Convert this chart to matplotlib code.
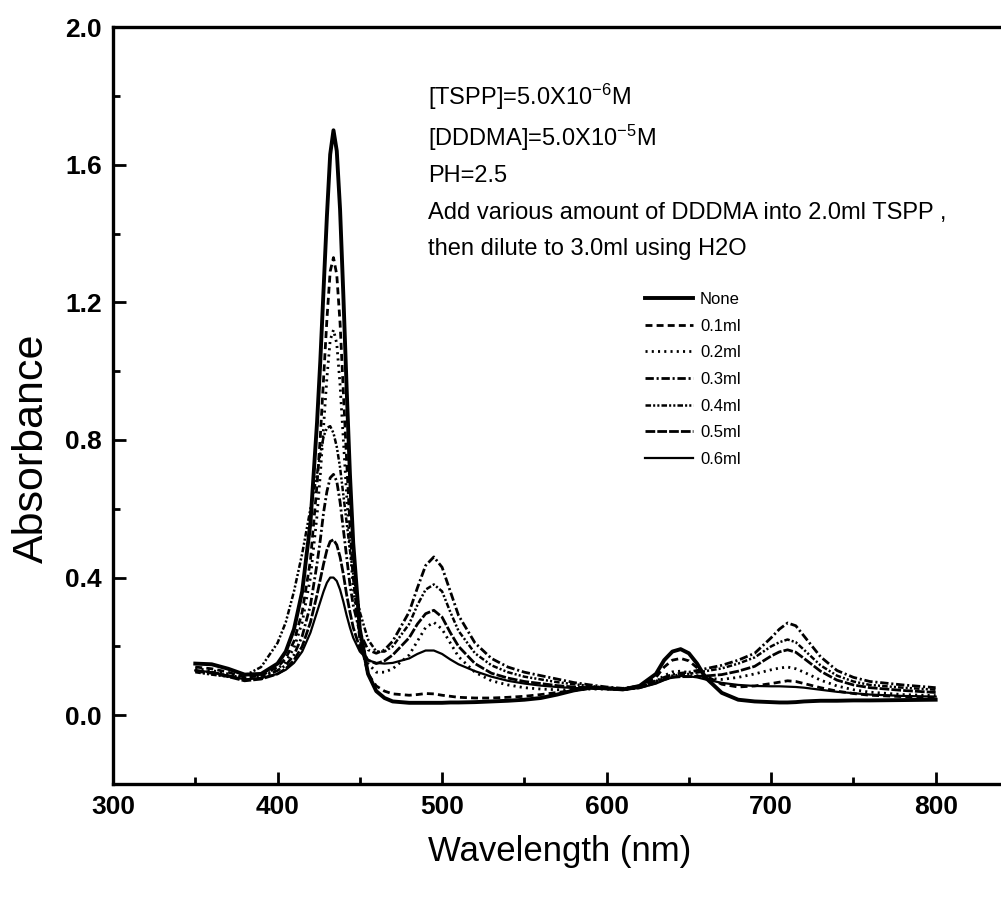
import matplotlib
matplotlib.use("Agg")
import matplotlib.pyplot as plt
from matplotlib.ticker import MultipleLocator

plt.rcParams['font.family'] = ['Liberation Sans', 'DejaVu Sans']
plt.rcParams['mathtext.default'] = 'regular'
plt.rcParams['lines.scale_dashes'] = False

# wavelength grid (nm)
wavelength = [350, 360, 370, 380, 390,
              400, 405, 410, 415, 420,
              424, 426, 428, 430, 432,
              434, 436, 438, 440, 442,
              444, 446, 450, 455, 460,
              465, 470, 480, 485, 490,
              495, 500, 505, 510, 520,
              530, 540, 550, 560, 570,
              580, 590, 600, 610, 620,
              630, 635, 640, 645, 650,
              655, 660, 670, 680, 690,
              700, 705, 710, 715, 720,
              730, 740, 750, 760, 780,
              800]

abs_none = [0.150, 0.148, 0.135, 0.118, 0.120,
            0.150, 0.185, 0.250, 0.360, 0.560,
            0.850, 1.030, 1.240, 1.450, 1.630,
            1.700, 1.640, 1.470, 1.220, 0.950,
            0.700, 0.500, 0.250, 0.120, 0.070,
            0.050, 0.040, 0.036, 0.036, 0.036,
            0.036, 0.036, 0.037, 0.037, 0.038,
            0.040, 0.042, 0.045, 0.050, 0.060,
            0.072, 0.080, 0.078, 0.075, 0.085,
            0.120, 0.160, 0.185, 0.192, 0.180,
            0.150, 0.110, 0.065, 0.045, 0.040,
            0.038, 0.037, 0.037, 0.038, 0.040,
            0.042, 0.042, 0.043, 0.043, 0.044,
            0.045]

abs_01 = [0.140, 0.135, 0.125, 0.110, 0.115,
          0.140, 0.165, 0.215, 0.300, 0.450,
          0.670, 0.810, 0.980, 1.150, 1.290,
          1.330, 1.280, 1.140, 0.940, 0.740,
          0.550, 0.400, 0.220, 0.120, 0.085,
          0.070, 0.062, 0.058, 0.060, 0.063,
          0.062, 0.058, 0.055, 0.052, 0.050,
          0.050, 0.052, 0.055, 0.060, 0.066,
          0.072, 0.078, 0.078, 0.075, 0.082,
          0.110, 0.140, 0.160, 0.165, 0.158,
          0.138, 0.115, 0.090, 0.082, 0.085,
          0.092, 0.096, 0.100, 0.098, 0.092,
          0.080, 0.070, 0.063, 0.058, 0.054,
          0.052]

abs_02 = [0.135, 0.130, 0.120, 0.108, 0.112,
          0.135, 0.155, 0.195, 0.270, 0.400,
          0.580, 0.700, 0.840, 0.980, 1.090,
          1.120, 1.080, 0.960, 0.800, 0.640,
          0.490, 0.370, 0.230, 0.150, 0.125,
          0.125, 0.135, 0.175, 0.215, 0.255,
          0.270, 0.250, 0.210, 0.170, 0.125,
          0.100, 0.088, 0.080, 0.076, 0.074,
          0.074, 0.076, 0.076, 0.074, 0.080,
          0.098, 0.115, 0.126, 0.128, 0.124,
          0.115, 0.108, 0.104, 0.110, 0.120,
          0.132, 0.137, 0.140, 0.135, 0.125,
          0.102, 0.085, 0.074, 0.067, 0.060,
          0.057]

abs_03 = [0.130, 0.125, 0.115, 0.102, 0.108,
          0.130, 0.145, 0.175, 0.230, 0.320,
          0.440, 0.510, 0.590, 0.650, 0.690,
          0.700, 0.680, 0.620, 0.540, 0.460,
          0.380, 0.320, 0.240, 0.190, 0.180,
          0.190, 0.215, 0.300, 0.370, 0.435,
          0.460, 0.430, 0.360, 0.290, 0.210,
          0.165, 0.140, 0.125, 0.115, 0.105,
          0.095, 0.088, 0.082, 0.078, 0.085,
          0.100, 0.110, 0.118, 0.122, 0.125,
          0.130, 0.135, 0.145, 0.160, 0.180,
          0.225, 0.250, 0.268, 0.260, 0.230,
          0.170, 0.130, 0.110, 0.098, 0.088,
          0.080]

abs_04 = [0.125, 0.118, 0.112, 0.115, 0.140,
          0.210, 0.270, 0.360, 0.470, 0.600,
          0.700, 0.760, 0.810, 0.835, 0.840,
          0.820, 0.780, 0.720, 0.640, 0.560,
          0.480, 0.410, 0.300, 0.220, 0.185,
          0.185, 0.200, 0.265, 0.320, 0.365,
          0.380, 0.360, 0.300, 0.245, 0.180,
          0.145, 0.125, 0.112, 0.104, 0.096,
          0.090, 0.085, 0.080, 0.077, 0.083,
          0.098, 0.108, 0.115, 0.118, 0.120,
          0.124, 0.128, 0.136, 0.150, 0.168,
          0.200, 0.212, 0.220, 0.212, 0.190,
          0.145, 0.115, 0.098, 0.088, 0.080,
          0.074]

abs_05 = [0.128, 0.122, 0.112, 0.100, 0.105,
          0.120, 0.135, 0.160, 0.200, 0.270,
          0.350, 0.395, 0.440, 0.480, 0.505,
          0.510, 0.495, 0.460, 0.410, 0.350,
          0.300, 0.255, 0.195, 0.160, 0.150,
          0.158, 0.175, 0.225, 0.265, 0.295,
          0.305, 0.285, 0.240, 0.200, 0.150,
          0.122, 0.108, 0.098, 0.092, 0.086,
          0.082, 0.080, 0.077, 0.074, 0.080,
          0.094, 0.104, 0.110, 0.112, 0.112,
          0.113, 0.114, 0.118, 0.128, 0.142,
          0.172, 0.184, 0.190, 0.183, 0.165,
          0.128, 0.102, 0.088, 0.080, 0.072,
          0.066]

abs_06 = [0.130, 0.125, 0.115, 0.104, 0.108,
          0.120, 0.132, 0.152, 0.185, 0.240,
          0.300, 0.330, 0.360, 0.385, 0.400,
          0.400, 0.390, 0.365, 0.330, 0.290,
          0.255, 0.225, 0.185, 0.160, 0.152,
          0.150, 0.152, 0.165, 0.178, 0.188,
          0.188, 0.178, 0.162, 0.148, 0.128,
          0.112, 0.100, 0.092, 0.086, 0.082,
          0.079, 0.078, 0.076, 0.074, 0.079,
          0.092, 0.102, 0.110, 0.114, 0.113,
          0.110, 0.104, 0.094, 0.088, 0.085,
          0.084, 0.084, 0.083, 0.082, 0.080,
          0.074, 0.068, 0.064, 0.060, 0.056,
          0.054]

labels = ['None', '0.1ml', '0.2ml', '0.3ml', '0.4ml', '0.5ml', '0.6ml']
spectra = [abs_none, abs_01, abs_02, abs_03, abs_04, abs_05, abs_06]

notes = [r'[TSPP]=5.0X10$^{-6}$M',
         r'[DDDMA]=5.0X10$^{-5}$M',
         'PH=2.5',
         'Add various amount of DDDMA into 2.0ml TSPP ,',
         'then dilute to 3.0ml using H2O']

# line styles (widths and dash patterns in points)
styles = [dict(lw=2.8, ls='-'),
          dict(lw=2.0, ls=(0, (5, 3))),
          dict(lw=2.0, ls=(0, (1.5, 3))),
          dict(lw=2.0, ls=(0, (6, 2, 1.5, 2))),
          dict(lw=1.8, ls=(0, (4, 1.5, 1.5, 1.5, 1.5, 1.5))),
          dict(lw=2.0, ls=(0, (7, 1.5))),
          dict(lw=1.6, ls='-')]


def plot_spectra():
    fig = plt.figure(figsize=(10.01, 8.99), dpi=100)
    ax = fig.add_axes([0.1129, 0.1279, 0.904, 0.842])

    for y, lab, st in zip(spectra, labels, styles):
        ax.plot(wavelength, y, color='black', label=lab, **st)

    ax.set_xlim(300, 850)
    ax.set_ylim(-0.2, 2.0)
    ax.xaxis.set_major_locator(MultipleLocator(100))
    ax.xaxis.set_minor_locator(MultipleLocator(50))
    ax.yaxis.set_minor_locator(MultipleLocator(0.2))
    ax.set_yticks([0.0, 0.4, 0.8, 1.2, 1.6, 2.0])
    ax.set_yticklabels(['0.0', '0.4', '0.8', '1.2', '1.6', '2.0'])

    ax.tick_params(which='both', direction='in', top=False, right=False,
                   width=2)
    ax.tick_params(which='major', length=9, labelsize=19, pad=8)
    ax.tick_params(which='minor', length=5)
    for lab in ax.get_xticklabels() + ax.get_yticklabels():
        lab.set_fontweight('bold')

    for side in ['left', 'bottom', 'top']:
        ax.spines[side].set_linewidth(2.4)
    ax.spines['right'].set_visible(False)

    ax.set_xlabel('Wavelength (nm)', fontsize=25)
    ax.set_ylabel('Absorbance', fontsize=31)
    ax.xaxis.set_label_coords(0.494, -0.068)
    ax.yaxis.set_label_coords(-0.067, 0.443)

    # testo con le condizioni sperimentali
    y_pos = [97, 138, 176, 213, 249]
    for t, yp in zip(notes, y_pos):
        fig.text(428 / 1001, 1 - yp / 899, t, fontsize=17, va='center',
                 ha='left')

    ax.legend(loc='upper left', bbox_to_anchor=(0.588, 0.650), frameon=False,
              fontsize=12, handlelength=2.9, handletextpad=0.4,
              labelspacing=0.7, borderpad=0, borderaxespad=0)

    fig.savefig('out.png', dpi=100)


plot_spectra()
